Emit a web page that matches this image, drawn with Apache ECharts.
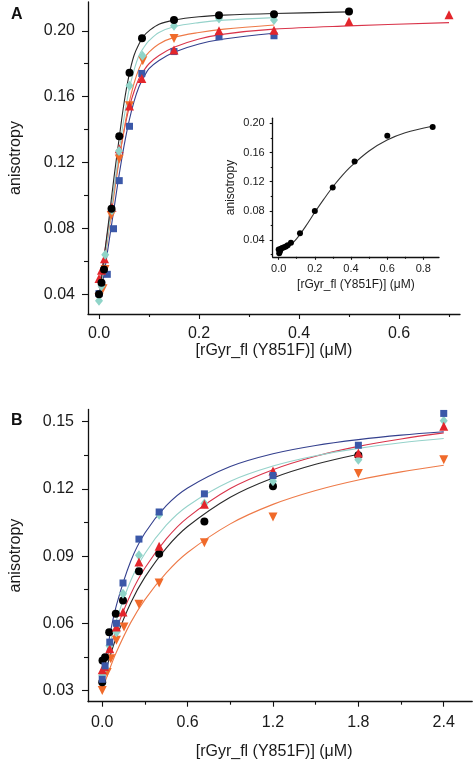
<!DOCTYPE html>
<html><head><meta charset="utf-8">
<script src="https://cdn.jsdelivr.net/npm/echarts@6/dist/echarts.min.js"></script>
<style>html,body{margin:0;padding:0;background:#fff}#c{width:473px;height:762px}</style>
</head><body><div id="c"></div>
<script>
// ---------- Panel A: tick labels ----------
const aXTicks = [0.0, 0.2, 0.4, 0.6];
const aXMinor = [0.1, 0.3, 0.5, 0.7];
const aYTicks = [0.04, 0.08, 0.12, 0.16, 0.20];
const aYMinor = [0.06, 0.10, 0.14, 0.18];
// Panel A data points [x, y]
const aBlack  = [[0,0.040],[0.005,0.047],[0.01,0.055],[0.025,0.092],[0.0405,0.136],[0.061,0.1745],[0.086,0.1955],[0.15,0.2065],[0.24,0.2095],[0.35,0.2101],[0.5,0.2117]];
const aCyan   = [[0,0.036],[0.005,0.045],[0.0125,0.064],[0.026,0.091],[0.04,0.127],[0.061,0.1667],[0.087,0.1848],[0.15,0.203],[0.24,0.2075],[0.35,0.2065]];
const aOrange = [[0,0.038],[0.008,0.0434],[0.012,0.055],[0.0245,0.0879],[0.0405,0.1222],[0.061,0.1545],[0.0876,0.1818],[0.15,0.1953]];
const aRed    = [[0,0.0495],[0.005,0.0545],[0.011,0.0616],[0.026,0.0929],[0.0405,0.1283],[0.061,0.1544],[0.0856,0.1711],[0.15,0.1883],[0.24,0.200],[0.35,0.2004],[0.5,0.2056],[0.7,0.2097]];
const aBlue   = [[0,0.0404],[0.0166,0.0521],[0.029,0.0798],[0.0405,0.109],[0.061,0.142],[0.0856,0.1741],[0.15,0.1874],[0.24,0.1964],[0.35,0.197]];
// Panel A fitted curves
const aBlackFit  = [[0,0.038],[0.01,0.062],[0.02,0.086],[0.03,0.111],[0.04,0.134],[0.05,0.156],[0.06,0.173],[0.07,0.185],[0.08,0.192],[0.09,0.197],[0.1,0.200],[0.12,0.204],[0.15,0.2065],[0.2,0.2085],[0.25,0.2095],[0.35,0.2105],[0.5,0.2115]];
const aCyanFit   = [[0,0.036],[0.01,0.058],[0.02,0.081],[0.03,0.104],[0.04,0.126],[0.05,0.147],[0.06,0.164],[0.07,0.176],[0.08,0.185],[0.09,0.190],[0.1,0.194],[0.12,0.199],[0.15,0.2025],[0.2,0.205],[0.25,0.2065],[0.35,0.208]];
const aOrangeFit = [[0,0.036],[0.01,0.057],[0.02,0.079],[0.03,0.100],[0.04,0.121],[0.05,0.140],[0.06,0.156],[0.07,0.168],[0.08,0.177],[0.09,0.183],[0.1,0.187],[0.12,0.192],[0.15,0.196],[0.2,0.199],[0.25,0.201],[0.35,0.2035]];
const aRedFit    = [[0,0.044],[0.01,0.063],[0.02,0.083],[0.03,0.103],[0.04,0.122],[0.05,0.139],[0.06,0.153],[0.07,0.163],[0.08,0.171],[0.09,0.176],[0.1,0.180],[0.12,0.185],[0.15,0.190],[0.2,0.195],[0.25,0.198],[0.35,0.201],[0.5,0.203],[0.7,0.205]];
const aBlueFit   = [[0,0.036],[0.01,0.052],[0.02,0.072],[0.03,0.092],[0.04,0.112],[0.05,0.130],[0.06,0.145],[0.07,0.157],[0.08,0.166],[0.09,0.172],[0.1,0.177],[0.12,0.182],[0.15,0.187],[0.2,0.192],[0.25,0.195],[0.35,0.1985]];

// ---------- Inset ----------
const iXTicks = [0.0, 0.2, 0.4, 0.6, 0.8];
const iXMinor = [0.1, 0.3, 0.5, 0.7];
const iYTicks = [0.04, 0.08, 0.12, 0.16, 0.20];
const iYMinor = [0.02, 0.06, 0.10, 0.14, 0.18];
const iPoints = [[0,0.027],[0.003,0.022],[0.008,0.025],[0.012,0.028],[0.02,0.029],[0.03,0.030],[0.04,0.031],[0.05,0.033],[0.068,0.0363],[0.118,0.0492],[0.2,0.0797],[0.299,0.112],[0.42,0.1478],[0.601,0.1829],[0.852,0.1948]];
const iFit = [[0,0.025],[0.05,0.030],[0.1,0.042],[0.15,0.059],[0.2,0.078],[0.25,0.096],[0.3,0.113],[0.35,0.128],[0.4,0.141],[0.5,0.162],[0.6,0.177],[0.7,0.187],[0.85,0.196]];

// ---------- Panel B ----------
const bXTicks = [0.0, 0.6, 1.2, 1.8, 2.4];
const bXMinor = [0.3, 0.9, 1.5, 2.1];
const bYTicks = [0.03, 0.06, 0.09, 0.12, 0.15];
const bYMinor = [0.045, 0.075, 0.105, 0.135];
const bBlack  = [[0,0.0337],[0.002,0.0434],[0.02,0.0449],[0.049,0.056],[0.095,0.0643],[0.146,0.0702],[0.258,0.0832],[0.4,0.0911],[0.718,0.1054],[1.2,0.1212],[1.8,0.135]];
const bCyan   = [[0,0.0367],[0.02,0.040],[0.05,0.050],[0.1,0.056],[0.146,0.0732],[0.258,0.0904],[0.4,0.1085],[0.718,0.1135],[1.2,0.1234],[1.8,0.133],[2.4,0.1504]];
const bOrange = [[0,0.030],[0.035,0.038],[0.06,0.0442],[0.1,0.0524],[0.153,0.0583],[0.258,0.0685],[0.4,0.078],[0.718,0.096],[1.2,0.1075],[1.8,0.1269],[2.4,0.133]];
const bRed    = [[0,0.0393],[0.016,0.0407],[0.053,0.0486],[0.1,0.0583],[0.146,0.065],[0.258,0.0874],[0.4,0.0944],[0.718,0.1131],[1.2,0.128],[1.8,0.136],[2.4,0.148]];
const bBlue   = [[0,0.035],[0.02,0.041],[0.053,0.0516],[0.1,0.060],[0.146,0.078],[0.258,0.0976],[0.4,0.1097],[0.718,0.1178],[1.2,0.126],[1.8,0.1395],[2.4,0.1537]];
const bBlackFit  = [[0,0.033],[0.05,0.0443],[0.1,0.0539],[0.2,0.0691],[0.3,0.0806],[0.45,0.0936],[0.6,0.1032],[0.9,0.1163],[1.2,0.1249],[1.5,0.131],[1.8,0.1355]];
const bCyanFit   = [[0,0.034],[0.05,0.0494],[0.1,0.0615],[0.2,0.079],[0.3,0.0912],[0.45,0.1038],[0.6,0.1124],[0.9,0.1234],[1.2,0.1302],[1.5,0.1348],[1.8,0.1381],[2.1,0.1406],[2.4,0.1425]];
const bOrangeFit = [[0,0.030],[0.05,0.0392],[0.1,0.0472],[0.2,0.0603],[0.3,0.0706],[0.45,0.0825],[0.6,0.0916],[0.9,0.1044],[1.2,0.1131],[1.5,0.1193],[1.8,0.124],[2.1,0.1276],[2.4,0.1306]];
const bRedFit    = [[0,0.036],[0.05,0.0477],[0.1,0.0575],[0.2,0.073],[0.3,0.0847],[0.45,0.0977],[0.6,0.1072],[0.9,0.1202],[1.2,0.1286],[1.5,0.1346],[1.8,0.139],[2.1,0.1423],[2.4,0.145]];
const bBlueFit   = [[0,0.033],[0.05,0.0534],[0.1,0.0681],[0.2,0.0877],[0.3,0.1003],[0.45,0.1125],[0.6,0.1204],[0.9,0.130],[1.2,0.1357],[1.5,0.1394],[1.8,0.142],[2.1,0.144],[2.4,0.1455]];

const xName = '[rGyr_fl (Y851F)] (\u03bcM)';
const yName = 'anisotropy';
const FONT = 'Liberation Sans, Arial, sans-serif';
const TXT = '#1a1a1a';

const COL = {black:'#000000', cyan:'#8fd4c8', orange:'#f06a2a', red:'#e3262c', blue:'#3b58a8'};
const LCOL = {black:'#2a2a2a', cyan:'#95d2ca', orange:'#ee7a48', red:'#d9344a', blue:'#34408e'};

function axisPair(kind, grid, min, max, majors, minors, fs, margin, dec, name, gap, tickLen, opts) {
  opts = opts || {};
  const main = {
    type:'value', gridIndex:grid, min:min, max:max, scale:true,
    position: kind==='x' ? 'bottom' : 'left',
    axisLine:{show:true, onZero:false, lineStyle:{color:'#111', width:1.3}},
    axisTick:{show:true, inside:false, length:tickLen, customValues:majors, lineStyle:{color:'#111', width:1.1}},
    axisLabel:{show:true, customValues:majors, margin:margin, fontSize:fs, fontFamily:FONT, color:TXT,
      formatter:v=>Number(v).toFixed(dec)},
    splitLine:{show:false},
    name:name, nameLocation:'middle', nameGap:gap,
    nameTextStyle:Object.assign({fontSize:opts.nameSize||fs, fontFamily:FONT, color:TXT}, opts.nameStyle||{})
  };
  const minor = {
    type:'value', gridIndex:grid, min:min, max:max, scale:true,
    position: kind==='x' ? 'bottom' : 'left',
    axisLine:{show:false, onZero:false},
    axisTick:{show:true, inside:false, length:Math.max(2,tickLen-2), customValues:minors, lineStyle:{color:'#111', width:1.1}},
    axisLabel:{show:false},
    splitLine:{show:false}
  };
  return [main, minor];
}

const xAxes = [].concat(
  axisPair('x',0,-0.022,0.722,aXTicks,aXMinor,16,12,1,xName,28,5),
  axisPair('x',1,-0.033,0.887,iXTicks,iXMinor,11,7,1,xName,22,3,{nameSize:12}),
  axisPair('x',2,-0.1,2.6,bXTicks,bXMinor,16,13,1,xName,42,5,{nameStyle:{padding:[0,12,0,0]}})
);
const yAxes = [].concat(
  axisPair('y',0,0.028,0.2175,aYTicks,aYMinor,16,13,2,yName,64,6),
  axisPair('y',1,0.017,0.207,iYTicks,iYMinor,11,8,2,yName,36,3,{nameSize:12}),
  axisPair('y',2,0.025,0.1555,bYTicks,bYMinor,16,14,2,yName,64,6)
);
// axis index: main axes at 0,2,4
function sc(data, xi, sym, color, size, rot) {
  return {type:'scatter', xAxisIndex:xi, yAxisIndex:xi, data:data, symbol:sym, symbolSize:size,
    symbolRotate:rot||0, itemStyle:{color:color, opacity:1}, z:5, silent:true};
}
function ln(data, xi, color) {
  return {type:'line', xAxisIndex:xi, yAxisIndex:xi, data:data, smooth:0.35, showSymbol:false, symbol:'none',
    lineStyle:{color:color, width:1.1}, z:3, silent:true};
}

const series = [
  ln(aBlueFit,0,LCOL.blue), ln(aRedFit,0,LCOL.red), ln(aOrangeFit,0,LCOL.orange), ln(aCyanFit,0,LCOL.cyan), ln(aBlackFit,0,LCOL.black),
  sc(aBlue,0,'rect',COL.blue,7), sc(aOrange,0,'triangle',COL.orange,9,180), sc(aRed,0,'triangle',COL.red,9), sc(aCyan,0,'diamond',COL.cyan,[8,10]), sc(aBlack,0,'circle',COL.black,8),
  ln(iFit,2,'#333'), sc(iPoints,2,'circle','#000',6),
  ln(bOrangeFit,4,LCOL.orange), ln(bBlackFit,4,LCOL.black), ln(bRedFit,4,LCOL.red), ln(bCyanFit,4,LCOL.cyan), ln(bBlueFit,4,LCOL.blue),
  sc(bOrange,4,'triangle',COL.orange,9,180), sc(bBlack,4,'circle',COL.black,8), sc(bCyan,4,'diamond',COL.cyan,[8,10]), sc(bRed,4,'triangle',COL.red,9), sc(bBlue,4,'rect',COL.blue,7)
];

const chart = echarts.init(document.getElementById('c'), null, {renderer:'canvas'});
chart.setOption({
  animation:false,
  backgroundColor:'#ffffff',
  title:[
    {text:'A', left:6, top:2, textStyle:{fontSize:16, fontWeight:'bold', fontFamily:FONT, color:'#111'}},
    {text:'B', left:6, top:408, textStyle:{fontSize:16, fontWeight:'bold', fontFamily:FONT, color:'#111'}}
  ],
  grid:[
    {left:86, top:2, width:374, height:312, containLabel:false},
    {left:272.7, top:118.2, width:166.3, height:138.6, containLabel:false},
    {left:84.7, top:409.4, width:387.5, height:292.3, containLabel:false}
  ],
  xAxis:xAxes,
  yAxis:yAxes,
  series:series
});
</script></body></html>
